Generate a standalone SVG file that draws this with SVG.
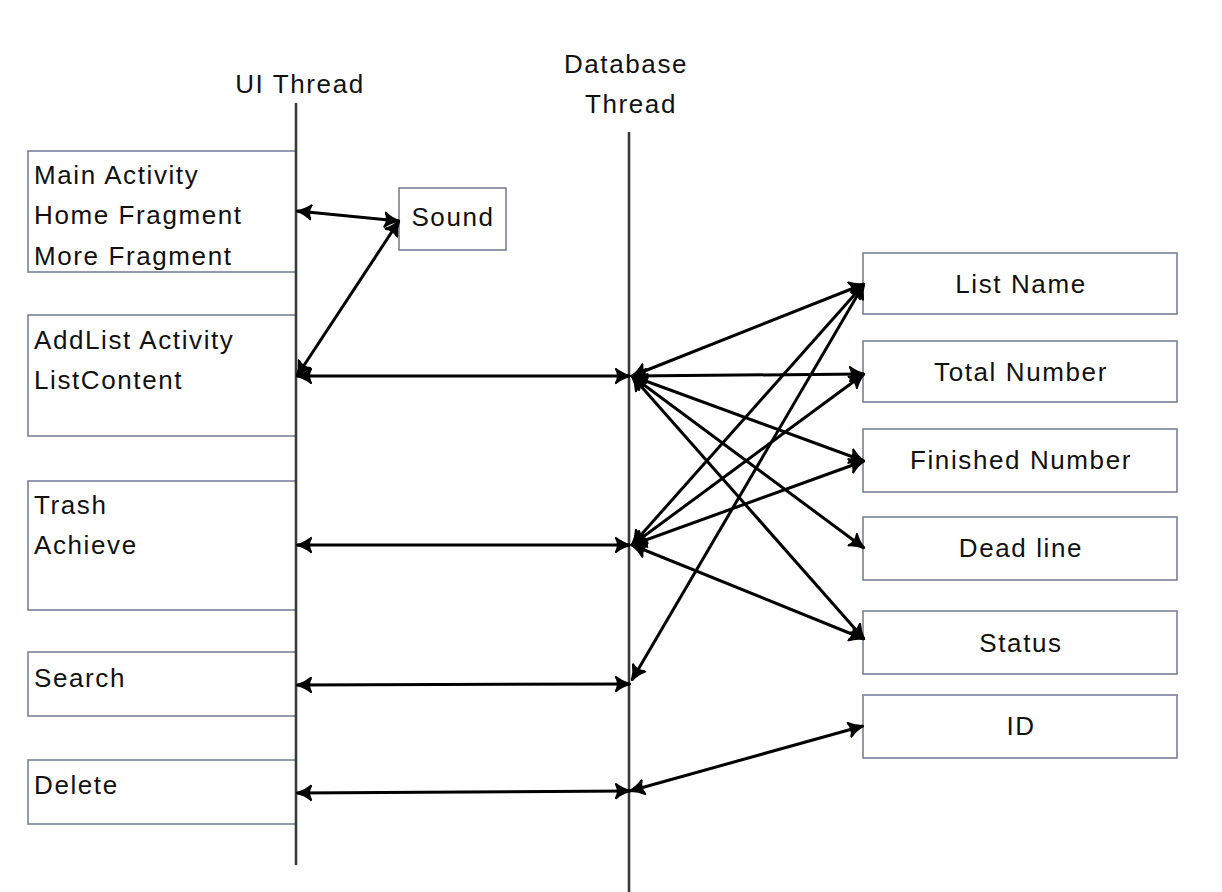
<svg xmlns="http://www.w3.org/2000/svg" width="1222" height="892" viewBox="0 0 1222 892">
<style>
.bg{fill:#ffffff}
.box{fill:#ffffff;stroke:#7b8099;stroke-width:1.6}
.life{stroke:#3a3a3a;stroke-width:2.6;fill:none}
.t{font-family:"Liberation Sans",Arial,sans-serif;font-size:26px;letter-spacing:1.6px;fill:#111111}
.c{text-anchor:middle}
.edge{stroke:#000000;stroke-width:3;fill:none;marker-start:url(#ah);marker-end:url(#ah)}
</style>
<defs>
<marker id="ah" markerUnits="userSpaceOnUse" markerWidth="18" markerHeight="18" refX="15" refY="9" orient="auto-start-reverse" viewBox="0 0 18 18">
<path d="M1,2 Q7,7 15,9 Q7,11 1,16 Q5,9 1,2 z" fill="#000000" stroke="#000000" stroke-width="2.2" stroke-linejoin="round"/>
</marker>
</defs>
<rect class="bg" x="0" y="0" width="1222" height="892"/>

<g id="labels">
<text class="t c" x="300" y="93">UI Thread</text>
<text class="t c" x="626" y="73">Database</text>
<text class="t c" x="631" y="113">Thread</text>
</g>

<g id="ui-main">
<rect class="box" x="28" y="151" width="268" height="121"/>
<text class="t" x="34" y="184">Main Activity</text>
<text class="t" x="34" y="224">Home Fragment</text>
<text class="t" x="34" y="265">More Fragment</text>
</g>
<g id="ui-addlist">
<rect class="box" x="28" y="315" width="268" height="121"/>
<text class="t" x="34" y="349">AddList Activity</text>
<text class="t" x="34" y="389">ListContent</text>
</g>
<g id="ui-trash">
<rect class="box" x="28" y="481" width="268" height="129"/>
<text class="t" x="34" y="514">Trash</text>
<text class="t" x="34" y="554">Achieve</text>
</g>
<g id="ui-search">
<rect class="box" x="28" y="652" width="268" height="64"/>
<text class="t" x="34" y="687">Search</text>
</g>
<g id="ui-delete">
<rect class="box" x="28" y="760" width="268" height="64"/>
<text class="t" x="34" y="794">Delete</text>
</g>

<g id="sound">
<rect class="box" x="399" y="188" width="107" height="62"/>
<text class="t c" x="453" y="226">Sound</text>
</g>

<g id="db-listname">
<rect class="box" x="863" y="253" width="314" height="61"/>
<text class="t c" x="1021" y="293">List Name</text>
</g>
<g id="db-total">
<rect class="box" x="863" y="341" width="314" height="61"/>
<text class="t c" x="1021" y="381">Total Number</text>
</g>
<g id="db-finished">
<rect class="box" x="863" y="429" width="314" height="63"/>
<text class="t c" x="1021" y="469">Finished Number</text>
</g>
<g id="db-deadline">
<rect class="box" x="863" y="517" width="314" height="63"/>
<text class="t c" x="1021" y="557">Dead line</text>
</g>
<g id="db-status">
<rect class="box" x="863" y="611" width="314" height="63"/>
<text class="t c" x="1021" y="652">Status</text>
</g>
<g id="db-id">
<rect class="box" x="863" y="695" width="314" height="63"/>
<text class="t c" x="1021" y="735">ID</text>
</g>

<g id="lifelines">
<line class="life" x1="296" y1="103" x2="296" y2="865"/>
<line class="life" x1="629" y1="132" x2="629" y2="892"/>
</g>

<g id="connectors">
<line class="edge" x1="297" y1="211" x2="399" y2="221"/>
<line class="edge" x1="399" y1="221" x2="297" y2="376"/>
<line class="edge" x1="297" y1="376" x2="630" y2="376"/>
<line class="edge" x1="297" y1="545" x2="630" y2="545"/>
<line class="edge" x1="297" y1="685" x2="630" y2="684"/>
<line class="edge" x1="297" y1="793" x2="630" y2="791"/>
<line class="edge" x1="630" y1="791" x2="863" y2="726"/>
<line class="edge" x1="632" y1="376" x2="864" y2="284"/>
<line class="edge" x1="632" y1="376" x2="864" y2="374"/>
<line class="edge" x1="632" y1="376" x2="864" y2="461"/>
<line class="edge" x1="632" y1="376" x2="864" y2="548"/>
<line class="edge" x1="632" y1="376" x2="864" y2="639"/>
<line class="edge" x1="632" y1="545" x2="864" y2="284"/>
<line class="edge" x1="632" y1="545" x2="864" y2="374"/>
<line class="edge" x1="632" y1="545" x2="864" y2="461"/>
<line class="edge" x1="632" y1="545" x2="864" y2="639"/>
<line class="edge" x1="632" y1="680" x2="864" y2="284"/>
</g>
</svg>
